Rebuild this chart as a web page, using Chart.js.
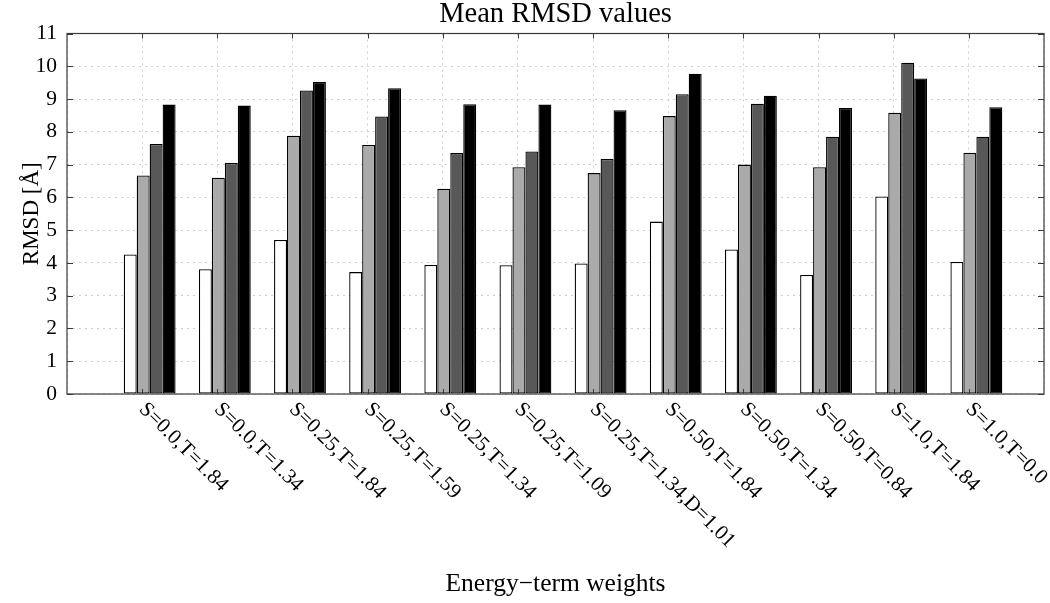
<!DOCTYPE html>
<html>
<head>
<meta charset="utf-8">
<script src="https://cdn.jsdelivr.net/npm/chart.js@4.4.0/dist/chart.umd.min.js"></script>
<style>
html, body { margin: 0; padding: 0; background: #ffffff; }
#c { display: block; }
</style>
</head>
<body>
<canvas id="c" width="1050" height="603"></canvas>
<script>
// ---- data ----
const categories = [
  "S=0.0,T=1.84", "S=0.0,T=1.34", "S=0.25,T=1.84", "S=0.25,T=1.59",
  "S=0.25,T=1.34", "S=0.25,T=1.09", "S=0.25,T=1.34,D=1.01", "S=0.50,T=1.84",
  "S=0.50,T=1.34", "S=0.50,T=0.84", "S=1.0,T=1.84", "S=1.0,T=0.0"
];
const series1 = [4.26, 3.81, 4.70, 3.72, 3.94, 3.93, 3.98, 5.26, 4.41, 3.63, 6.03, 4.03];
const series2 = [6.67, 6.60, 7.88, 7.60, 6.26, 6.92, 6.74, 8.48, 7.00, 6.92, 8.58, 7.36];
const series3 = [7.63, 7.05, 9.26, 8.47, 7.35, 7.40, 7.17, 9.15, 8.86, 7.85, 10.11, 7.85];
const series4 = [8.83, 8.80, 9.52, 9.33, 8.84, 8.83, 8.66, 9.77, 9.10, 8.73, 9.63, 8.75];
const yTickValues = [0, 1, 2, 3, 4, 5, 6, 7, 8, 9, 10, 11];

const titleText = "Mean RMSD values";
const xTitle = "Energy\u2212term weights";
const yTitle = "RMSD [\u00C5]";

// ---- helpers ----
const positions = categories.map((_, i) => i + 1);
const toPoints = arr => arr.map((v, i) => ({ x: positions[i], y: v }));
const FONT = "'Liberation Serif', 'Times New Roman', serif";

const barColors = ["#ffffff", "#aaaaaa", "#585858", "#000000"];
const seriesList = [series1, series2, series3, series4];

const frameAndLabels = {
  id: "frameAndLabels",
  afterDraw(chart) {
    const ctx = chart.ctx;
    const a = chart.chartArea;
    const xs = chart.scales.xg;
    const ys = chart.scales.y;
    ctx.save();
    // frame
    ctx.strokeStyle = "#3a3a3a";
    ctx.lineWidth = 1.2;
    ctx.strokeRect(a.left, a.top, a.right - a.left, a.bottom - a.top);
    // inward tick marks
    ctx.beginPath();
    positions.forEach(p => {
      const px = Math.round(xs.getPixelForValue(p)) + 0.5;
      ctx.moveTo(px, a.top); ctx.lineTo(px, a.top + 5);
      ctx.moveTo(px, a.bottom); ctx.lineTo(px, a.bottom - 5);
    });
    yTickValues.forEach(v => {
      const py = Math.round(ys.getPixelForValue(v)) + 0.5;
      ctx.moveTo(a.left, py); ctx.lineTo(a.left + 6, py);
      ctx.moveTo(a.right, py); ctx.lineTo(a.right - 6, py);
    });
    ctx.lineWidth = 1;
    ctx.stroke();
    // rotated category labels
    ctx.font = "21px " + FONT;
    ctx.fillStyle = "#000000";
    ctx.textAlign = "left";
    ctx.textBaseline = "middle";
    categories.forEach((lab, i) => {
      const px = xs.getPixelForValue(positions[i]);
      ctx.save();
      ctx.translate(px, a.bottom + 12);
      ctx.rotate(Math.PI / 4);
      ctx.fillText(lab, 0, 0);
      ctx.restore();
    });
    ctx.restore();
  }
};

const gridStyle = {
  color: "#cfcfcf",
  lineWidth: 1,
  drawTicks: false,
  offset: false
};

new Chart(document.getElementById("c"), {
  type: "bar",
  data: {
    labels: categories,
    datasets: seriesList.map((s, k) => ({
      label: "Series " + (k + 1),
      data: toPoints(s),
      backgroundColor: barColors[k],
      borderColor: "#000000",
      borderWidth: 1.3,
      borderSkipped: false,
      xAxisID: "x",
      yAxisID: "y",
      categoryPercentage: 0.69,
      barPercentage: 1.0
    }))
  },
  options: {
    responsive: false,
    animation: false,
    devicePixelRatio: 1,
    layout: { padding: { left: 0, right: 6, top: 0, bottom: 0 } },
    plugins: {
      legend: { display: false },
      tooltip: { enabled: false },
      title: {
        display: true,
        text: titleText,
        fullSize: false,
        color: "#000000",
        font: { family: FONT, size: 28.5, weight: "normal", lineHeight: 1 },
        padding: { top: 0, bottom: 5 }
      }
    },
    scales: {
      x: {
        type: "linear",
        display: false,
        offset: false,
        min: -0.1,
        max: 12.9,
        afterBuildTicks(scale) { scale.ticks = positions.map(v => ({ value: v })); },
        grid: { display: false, offset: false }
      },
      xg: {
        type: "linear",
        position: "bottom",
        offset: false,
        min: 0,
        max: 13,
        ticks: { display: false, stepSize: 1 },
        grid: gridStyle,
        border: { display: false, dash: [2, 4] },
        title: {
          display: true,
          text: xTitle,
          color: "#000000",
          font: { family: FONT, size: 25.5, weight: "normal" },
          padding: { top: 0, bottom: 3 }
        },
        afterFit(scale) { scale.height = 209; }
      },
      y: {
        type: "linear",
        position: "left",
        min: 0,
        max: 11,
        ticks: {
          stepSize: 1,
          color: "#000000",
          padding: 10,
          font: { family: FONT, size: 21.5 }
        },
        afterBuildTicks(scale) { scale.ticks = yTickValues.map(v => ({ value: v })); },
        grid: gridStyle,
        border: { display: false, dash: [2, 4] },
        title: {
          display: true,
          text: yTitle,
          color: "#000000",
          font: { family: FONT, size: 23, weight: "normal" },
          padding: { top: 18, bottom: 0 }
        },
        afterFit(scale) { scale.width = 67; }
      }
    }
  },
  plugins: [frameAndLabels]
});
</script>
</body>
</html>
